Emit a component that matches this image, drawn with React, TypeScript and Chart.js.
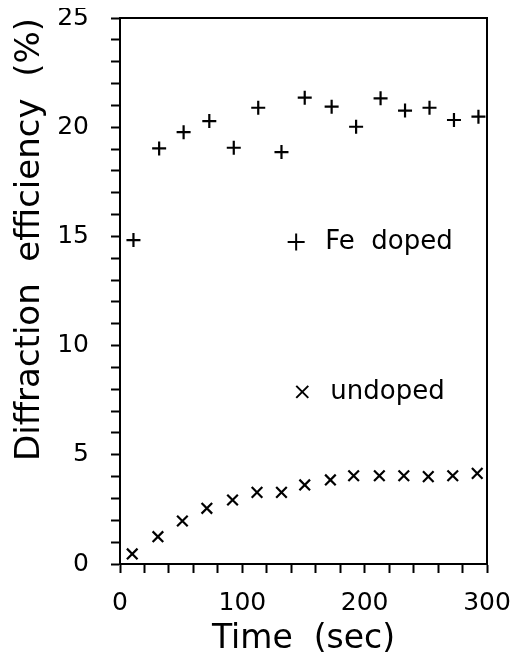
import React, { useEffect, useRef } from "react";
import { Chart, registerables } from "chart.js";

Chart.register(...registerables);

// ---- data ----
const FE_TIMES = [11, 32, 52, 73, 93, 113, 132, 151, 173, 193, 213, 233, 253, 273, 293];
const FE_VALUES = [14.83, 19.03, 19.77, 20.28, 19.06, 20.89, 18.86, 21.35, 20.94, 20.02, 21.32, 20.76, 20.89, 20.33, 20.48];
const UNDOPED_TIMES = [10, 31, 51, 71, 92, 112, 132, 151, 172, 191, 212, 232, 252, 272, 292];
const UNDOPED_VALUES = [0.46, 1.25, 1.97, 2.55, 2.93, 3.28, 3.28, 3.62, 3.85, 4.04, 4.04, 4.04, 4.0, 4.04, 4.15];
const SERIES_LABELS = ["Fe  doped", "undoped"];
const X_LABELED_TICKS = [0, 100, 200, 300];
const Y_LABELED_TICKS = [0, 5, 10, 15, 20, 25];
const X_TITLE = "Time  (sec)";
const Y_TITLE = "Diffraction  efficiency  (%)";

const FONT = '"DejaVu Sans", sans-serif';

const inlineLegend = {
  id: "inlineLegend",
  afterDatasetsDraw(chart: any, _args: any, opts: any) {
    const { ctx } = chart;
    const xs = chart.scales.x;
    const ys = chart.scales.y;
    chart.data.datasets.forEach((ds: any, i: number) => {
      const anchor = opts.anchors[i];
      const px = xs.getPixelForValue(anchor.x);
      const py = ys.getPixelForValue(anchor.y);
      const r = opts.radius[i];
      ctx.save();
      ctx.strokeStyle = "#000";
      ctx.lineWidth = 2;
      ctx.beginPath();
      if (ds.pointStyle === "cross") {
        ctx.moveTo(px - r, py);
        ctx.lineTo(px + r, py);
        ctx.moveTo(px, py - r);
        ctx.lineTo(px, py + r);
      } else {
        const o = r * Math.SQRT1_2;
        ctx.moveTo(px - o, py - o);
        ctx.lineTo(px + o, py + o);
        ctx.moveTo(px - o, py + o);
        ctx.lineTo(px + o, py - o);
      }
      ctx.stroke();
      ctx.fillStyle = "#000";
      ctx.font = `26px ${FONT}`;
      ctx.textAlign = "left";
      ctx.textBaseline = "middle";
      ctx.fillText(ds.label, px + opts.gap[i], py);
      ctx.restore();
    });
  },
};

export default function App() {
  const canvasRef = useRef<HTMLCanvasElement | null>(null);

  useEffect(() => {
    if (!canvasRef.current) return;
    Chart.defaults.font.family = FONT;
    Chart.defaults.color = "#000";

    const chart = new Chart(canvasRef.current, {
      type: "scatter",
      data: {
        datasets: [
          {
            label: SERIES_LABELS[0],
            data: FE_TIMES.map((t, i) => ({ x: t, y: FE_VALUES[i] })),
            pointStyle: "cross",
            pointRadius: 7,
            pointBorderWidth: 2.2,
            borderWidth: 2.2,
            pointBorderColor: "#000",
            pointBackgroundColor: "#000",
            borderColor: "#000",
            backgroundColor: "#000",
          },
          {
            label: SERIES_LABELS[1],
            data: UNDOPED_TIMES.map((t, i) => ({ x: t, y: UNDOPED_VALUES[i] })),
            pointStyle: "crossRot",
            pointRadius: 7.5,
            pointBorderWidth: 2.2,
            borderWidth: 2.2,
            pointBorderColor: "#000",
            pointBackgroundColor: "#000",
            borderColor: "#000",
            backgroundColor: "#000",
          },
        ],
      },
      options: {
        responsive: false,
        animation: false,
        elements: { point: { borderWidth: 2.2 } },
        layout: { padding: { top: 10, right: 25, bottom: 0, left: 0 } },
        plugins: {
          legend: { display: false },
          tooltip: { enabled: false },
          inlineLegend: {
            anchors: [
              { x: 144, y: 14.74 },
              { x: 149, y: 7.88 },
            ],
            radius: [8.5, 8.5],
            gap: [29, 28],
          },
        } as any,
        scales: {
          x: {
            type: "linear",
            position: "bottom",
            min: 0,
            max: 300,
            afterFit: (s: any) => {
              s.height = 90;
              s.paddingLeft = 0;
              s.paddingRight = 0;
            },
            ticks: {
              stepSize: 20,
              autoSkip: false,
              maxRotation: 0,
              padding: 15,
              font: { size: 25 },
              color: "#000",
              callback: (v: any) => (X_LABELED_TICKS.includes(Number(v)) ? String(v) : ""),
            },
            grid: {
              drawOnChartArea: false,
              drawTicks: true,
              tickLength: 9,
              tickWidth: 2,
              tickColor: "#000",
            },
            border: { display: true, color: "#000", width: 2 },
            title: {
              display: true,
              text: X_TITLE,
              color: "#000",
              font: { size: 33, lineHeight: 0.8 },
              padding: { top: 0, bottom: 1 },
            },
          },
          y: {
            type: "linear",
            position: "left",
            min: 0,
            max: 25,
            afterFit: (s: any) => {
              s.width = 112;
              s.paddingTop = 0;
              s.paddingBottom = 0;
            },
            ticks: {
              stepSize: 1,
              autoSkip: false,
              padding: 22,
              font: { size: 25 },
              color: "#000",
              callback: (v: any) => (Y_LABELED_TICKS.includes(Number(v)) ? String(v) : ""),
            },
            grid: {
              drawOnChartArea: false,
              drawTicks: true,
              tickLength: 9,
              tickWidth: 2,
              tickColor: "#000",
            },
            border: { display: true, color: "#000", width: 2 },
            title: {
              display: true,
              text: Y_TITLE,
              align: "end",
              color: "#000",
              font: { size: 34, lineHeight: 0.8 },
              padding: { top: 9, bottom: 0 },
            },
          },
          x2: {
            type: "linear",
            position: "top",
            min: 0,
            max: 300,
            afterFit: (s: any) => {
              s.height = 0;
              s.paddingLeft = 0;
              s.paddingRight = 0;
            },
            ticks: { display: false },
            grid: { drawOnChartArea: false, drawTicks: false },
            border: { display: true, color: "#000", width: 2 },
          },
          y2: {
            type: "linear",
            position: "right",
            min: 0,
            max: 25,
            afterFit: (s: any) => {
              s.width = 0;
              s.paddingTop = 0;
              s.paddingBottom = 0;
            },
            ticks: { display: false },
            grid: { drawOnChartArea: false, drawTicks: false },
            border: { display: true, color: "#000", width: 2 },
          },
        },
      } as any,
      plugins: [inlineLegend],
    });

    return () => chart.destroy();
  }, []);

  return (
    <div style={{ width: 504, height: 646 }}>
      <canvas ref={canvasRef} width={504} height={646} style={{ display: "block" }} />
    </div>
  );
}
